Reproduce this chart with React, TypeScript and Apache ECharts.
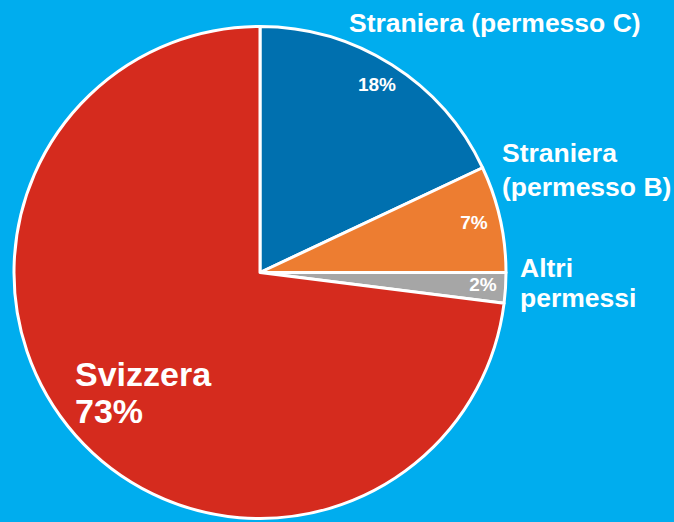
import React, { useEffect, useRef } from "react";
import * as echarts from "echarts";

const categories = ["Straniera (permesso C)", "Straniera\n(permesso B)", "Altri\npermessi", "Svizzera"];
const values = [18, 7, 2, 73];
const percentLabels = ["18%", "7%", "2%", "Svizzera\n73%"];
const colors = ["#0070AF", "#ED7D31", "#A6A6A6", "#D52B1E"];

// label anchor positions (layout only)
const innerPos = [
  { x: 377, y: 84, align: "center", size: 19, lh: 22 },
  { x: 474, y: 222, align: "center", size: 19, lh: 22 },
  { x: 483, y: 284, align: "center", size: 19, lh: 22 },
  { x: 75, y: 392, align: "left", size: 34, lh: 37 },
];
const outerPos = [
  { x: 349, y: 23, lh: 30 },
  { x: 502, y: 170, lh: 34 },
  { x: 520, y: 283, lh: 30 },
  null,
];

export default function App() {
  const ref = useRef<HTMLDivElement>(null);
  useEffect(() => {
    const chart = echarts.init(ref.current!, null, { renderer: "svg" });
    const font = "'Liberation Sans', Arial, sans-serif";
    chart.setOption({
      animation: false,
      backgroundColor: "#00ADEE",
      series: [
        {
          type: "pie",
          center: [260, 272.5],
          radius: 246,
          startAngle: 90,
          clockwise: true,
          silent: true,
          itemStyle: { borderColor: "#FFFFFF", borderWidth: 3 },
          data: values.map((v, i) => ({
            value: v,
            name: categories[i],
            itemStyle: { color: colors[i] },
            label: {
              show: true,
              position: "inside",
              formatter: percentLabels[i],
              color: "#FFFFFF",
              fontWeight: "bold",
              fontFamily: font,
              fontSize: innerPos[i].size,
              lineHeight: innerPos[i].lh,
              overflow: "none",
            },
          })),
          labelLine: { show: false },
          labelLayout: (p: any) => {
            const pos = innerPos[p.dataIndex];
            return { x: pos.x, y: pos.y, align: pos.align, verticalAlign: "middle" };
          },
        },
        {
          type: "pie",
          center: [260, 272.5],
          radius: 246,
          startAngle: 90,
          clockwise: true,
          silent: true,
          z: 3,
          itemStyle: { color: "rgba(0,0,0,0)", borderWidth: 0 },
          emphasis: { disabled: true },
          label: { overflow: "none", edgeDistance: 0, bleedMargin: 0 },
          data: values.map((v, i) => ({
            value: v,
            name: categories[i],
            label: {
              show: outerPos[i] !== null,
              position: "outside",
              formatter: categories[i],
              color: "#FFFFFF",
              fontWeight: "bold",
              fontFamily: font,
              fontSize: 26.5,
              lineHeight: outerPos[i] ? outerPos[i]!.lh : 30,
              overflow: "none",
              width: 400,
            },
            labelLine: { show: false },
          })),
          labelLine: { show: false },
          labelLayout: (p: any) => {
            const pos = outerPos[p.dataIndex];
            if (!pos) return {};
            return { x: pos.x, y: pos.y, align: "left", verticalAlign: "middle", width: 400 };
          },
        },
      ],
    });
    return () => chart.dispose();
  }, []);
  return <div ref={ref} style={{ width: 674, height: 522, position: "absolute", left: 0, top: 0 }} />;
}
